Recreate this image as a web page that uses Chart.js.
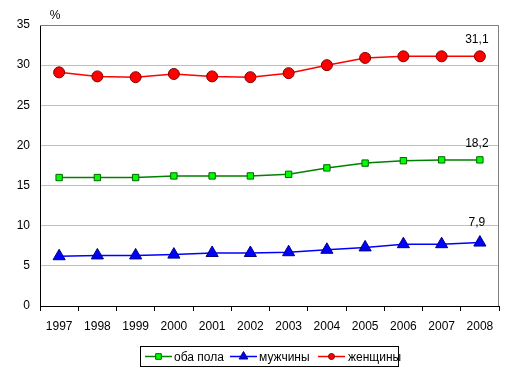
<!DOCTYPE html>
<html>
<head>
<meta charset="utf-8">
<script src="https://cdn.jsdelivr.net/npm/chart.js@4"></script>
<style>
  html, body { margin: 0; padding: 0; background: #fff; }
  #wrap { width: 513px; height: 374px; position: relative; }
</style>
</head>
<body>
<div id="wrap"><canvas id="chart"></canvas></div>
<script>
// categories and series (values in %)
var years = ['1997', '1998', '1999', '2000', '2001', '2002', '2003', '2004', '2005', '2006', '2007', '2008'];
var both = [16.0, 16.0, 16.0, 16.2, 16.2, 16.2, 16.4, 17.2, 17.8, 18.1, 18.2, 18.2];
var men = [6.2, 6.3, 6.3, 6.4, 6.6, 6.6, 6.7, 7.0, 7.3, 7.7, 7.7, 7.9];
var women = [29.1, 28.6, 28.5, 28.9, 28.6, 28.5, 29.0, 30.0, 30.9, 31.1, 31.1, 31.1];
var lastLabels = ['18,2', '7,9', '31,1'];
var seriesNames = ['оба пола', 'мужчины', 'женщины'];

var FONT = '"Liberation Sans", Arial, sans-serif';
Chart.defaults.font.family = FONT;
Chart.defaults.font.size = 12;
Chart.defaults.color = '#000';

var decor = {
  id: 'decor',
  afterDraw: function (chart) {
    var ctx = chart.ctx, a = chart.chartArea;
    ctx.save();
    // grey frame top / right
    ctx.strokeStyle = '#808080';
    ctx.lineWidth = 1;
    ctx.beginPath();
    ctx.moveTo(a.left, a.top + 0.5);
    ctx.lineTo(a.right - 0.5, a.top + 0.5);
    ctx.lineTo(a.right - 0.5, a.bottom);
    ctx.stroke();

    // "%" unit label
    ctx.fillStyle = '#000';
    ctx.font = '12px ' + FONT;
    ctx.textAlign = 'center';
    ctx.textBaseline = 'alphabetic';
    ctx.fillText('%', 55, 19);

    // last-value labels
    chart.data.datasets.forEach(function (ds, i) {
      var meta = chart.getDatasetMeta(i);
      var pt = meta.data[meta.data.length - 1];
      ctx.fillText(lastLabels[i], pt.x - 3, pt.y - (i === 1 ? 17 : 13));
    });

    // legend box
    var lx = 140.5, ly = 346.5, lw = 258, lh = 20;
    ctx.strokeStyle = '#000';
    ctx.strokeRect(lx, ly, lw, lh);
    var cy = ly + lh / 2;
    var items = [
      { x0: 145, x1: 172, tx: 174 },
      { x0: 230, x1: 257, tx: 259 },
      { x0: 318, x1: 345, tx: 348 }
    ];
    ctx.textAlign = 'left';
    ctx.textBaseline = 'middle';
    chart.data.datasets.forEach(function (ds, i) {
      var it = items[i];
      ctx.strokeStyle = ds.borderColor;
      ctx.lineWidth = 1.5;
      ctx.beginPath();
      ctx.moveTo(it.x0, cy);
      ctx.lineTo(it.x1, cy);
      ctx.stroke();
      ctx.fillStyle = ds.pointBackgroundColor;
      ctx.strokeStyle = ds.pointBorderColor;
      ctx.lineWidth = 1;
      Chart.helpers.drawPoint(ctx, {
        pointStyle: ds.pointStyle,
        radius: i === 2 ? 3 : (i === 1 ? 5 : 4),
        rotation: 0,
        borderWidth: 1
      }, (it.x0 + it.x1) / 2, cy);
      ctx.fillStyle = '#000';
      ctx.fillText(seriesNames[i], it.tx, cy + 1);
    });
    ctx.restore();
  }
};

new Chart(document.getElementById('chart'), {
  type: 'line',
  data: {
    labels: years,
    datasets: [
      {
        label: seriesNames[0], data: both,
        borderColor: '#008000', borderWidth: 1.5,
        pointStyle: 'rect', pointRadius: 4.5,
        pointBackgroundColor: '#00ff00', pointBorderColor: '#006400', pointBorderWidth: 1
      },
      {
        label: seriesNames[1], data: men,
        borderColor: '#0000ff', borderWidth: 1.5,
        pointStyle: 'triangle', pointRadius: 7,
        pointBackgroundColor: '#0000ff', pointBorderColor: '#000080', pointBorderWidth: 1
      },
      {
        label: seriesNames[2], data: women,
        borderColor: '#ff0000', borderWidth: 1.5,
        pointStyle: 'circle', pointRadius: 5.5,
        pointBackgroundColor: '#ff0000', pointBorderColor: '#800000', pointBorderWidth: 1
      }
    ]
  },
  options: {
    responsive: true,
    maintainAspectRatio: false,
    animation: false,
    layout: { padding: { top: 25, right: 14, left: 0, bottom: 0 } },
    plugins: { legend: { display: false }, tooltip: { enabled: false } },
    elements: { line: { tension: 0 } },
    scales: {
      x: {
        offset: true,
        grid: { offset: true, drawOnChartArea: false, drawTicks: true, tickLength: 5, color: '#000' },
        border: { color: '#000', width: 1 },
        ticks: { padding: 8, maxRotation: 0, autoSkip: false, font: { size: 12 } },
        afterFit: function (s) { s.height = 68; }
      },
      y: {
        min: 0, max: 35,
        ticks: { stepSize: 5, padding: 10, font: { size: 12 } },
        grid: { color: '#c0c0c0', drawTicks: false },
        border: { color: '#000', width: 1 },
        afterFit: function (s) { s.width = 40; }
      }
    }
  },
  plugins: [decor]
});
</script>
</body>
</html>
